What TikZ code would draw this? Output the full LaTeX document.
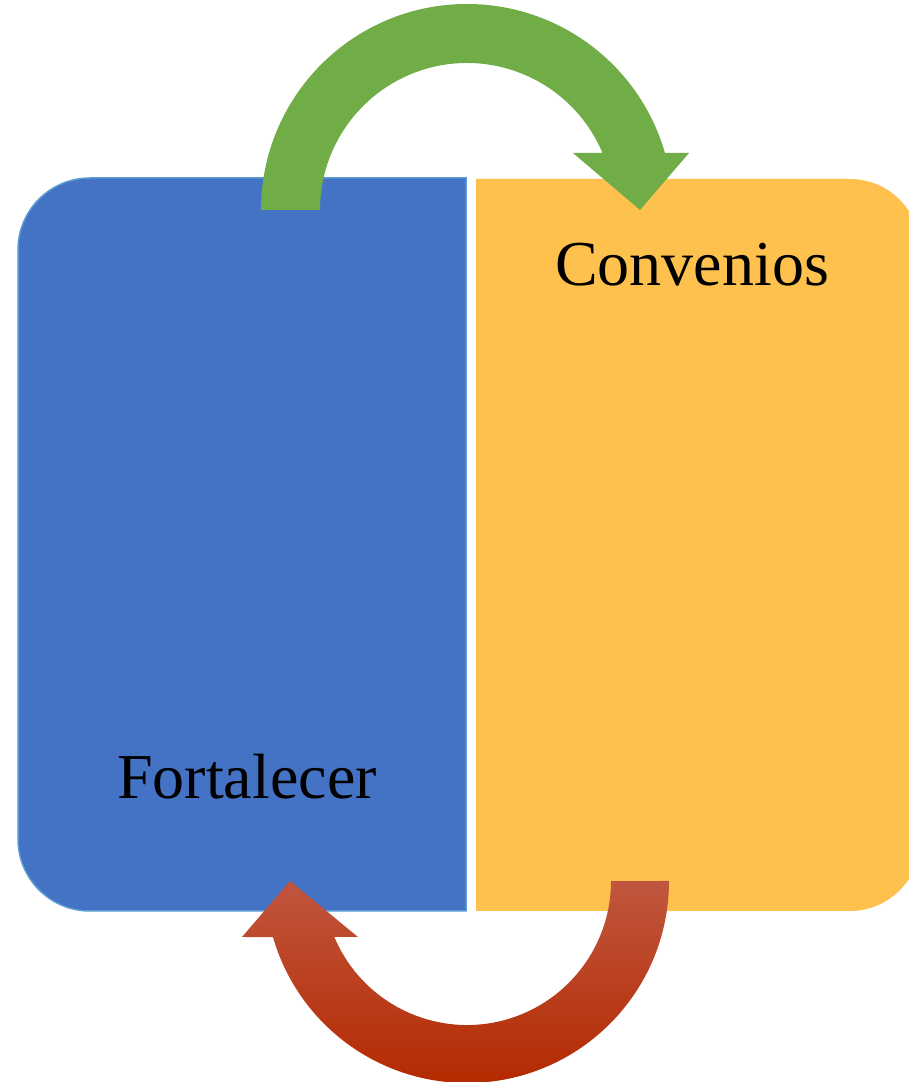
\documentclass[tikz,border=0pt]{standalone}
\usepackage{fontspec}
\setmainfont{Liberation Serif}
\definecolor{boxblue}{HTML}{4472C4}
\definecolor{boxblueline}{HTML}{5B9BD5}
\definecolor{boxyellow}{HTML}{FFC14D}
\definecolor{arrgreen}{HTML}{70AD47}
\definecolor{redtop}{HTML}{C0563F}
\definecolor{redmid}{HTML}{B72E00}
\definecolor{redbot}{HTML}{B42A00}
\tikzset{
  lbl/.style={anchor=base, inner sep=0pt, font=\fontsize{64}{70}\selectfont, text=black},
  bluebox/.style={fill=boxblue, draw=boxblueline, line width=1.5pt},
  yellowbox/.style={fill=boxyellow},
  greenarrow/.style={fill=arrgreen},
  redarrow/.style={top color=redtop, middle color=redmid, bottom color=redbot}
}
\begin{document}
\begin{tikzpicture}[x=1pt,y=1pt]
\useasboundingbox (0,0) rectangle (909,1082);
\clip (0,0) rectangle (909,1082);
\fill[white] (0,0) rectangle (909,1082);
% blue box
\path[bluebox] (466,171) -- (466,904) -- (90,904)
  arc[start angle=90,end angle=180,radius=72pt] -- (18,243)
  arc[start angle=180,end angle=270,radius=72pt] -- cycle;
% yellow box
\path[yellowbox] (476,903) -- (850,903)
  arc[start angle=90,end angle=0,radius=70pt] -- (920,241)
  arc[start angle=0,end angle=-90,radius=70pt] -- (476,171) -- cycle;
% green arrow
\path[greenarrow] (261,872) arc[start angle=180,end angle=16.07,radius=206pt]
  -- (689,929) -- (640,872) -- (573,929)
  -- ({467+147*cos(22.82)},929) arc[start angle=22.82,end angle=180,radius=147pt]
  -- cycle;
% red arrow
\shade[redarrow] (669,201) arc[start angle=0,end angle=-163.9,radius=202pt]
  -- (242,145) -- (290,201) -- (358,145)
  -- ({467-144*cos(22.88)},145) arc[start angle=-157.12,end angle=0,radius=144pt]
  -- cycle;
% labels
\node[lbl] (conv) at (692,796) {Convenios};
\node[lbl] (fort) at (247,283) {Fortalecer};
\end{tikzpicture}
\end{document}
